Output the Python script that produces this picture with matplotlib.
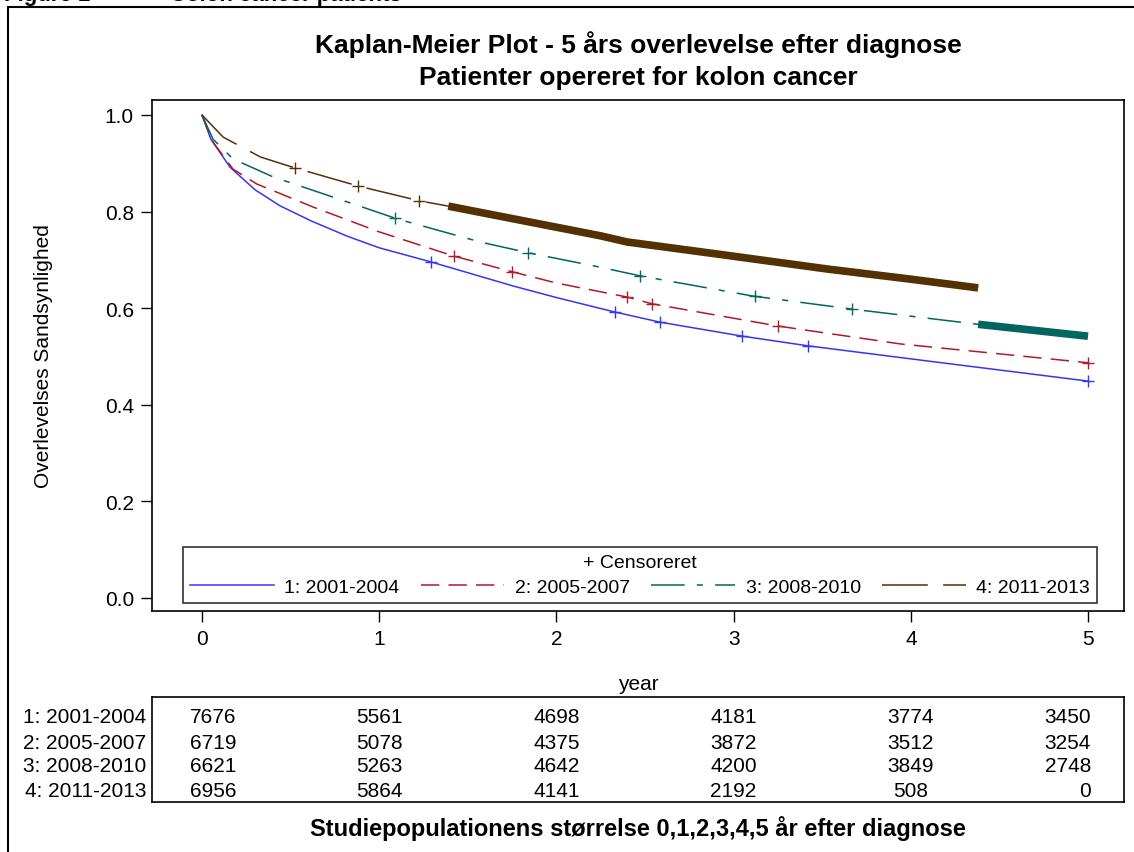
import numpy as np
import matplotlib
matplotlib.use("Agg")
import matplotlib.pyplot as plt
from matplotlib.lines import Line2D

plt.rcParams['font.family'] = ['Liberation Sans', 'DejaVu Sans']

# ---------------- data ----------------
groups = ["1: 2001-2004", "2: 2005-2007", "3: 2008-2010", "4: 2011-2013"]

t1 = [0, 0.05, 0.158, 0.3, 0.44, 0.62, 0.82, 1.0, 1.29, 1.755, 2.0, 2.33, 2.585, 3.05, 3.42, 4.13, 5.0]
s1 = [1.0, 0.95, 0.892, 0.845, 0.812, 0.78, 0.749, 0.725, 0.696, 0.646, 0.622, 0.592, 0.571, 0.542, 0.522, 0.489, 0.449]

t2 = [0, 0.06, 0.175, 0.31, 0.63, 1.0, 1.42, 1.755, 2.0, 2.4, 2.54, 3.25, 3.94, 5.0]
s2 = [1.0, 0.945, 0.888, 0.857, 0.809, 0.758, 0.708, 0.675, 0.652, 0.623, 0.609, 0.563, 0.526, 0.487]

t3 = [0, 0.062, 0.175, 0.4, 0.82, 1.1, 1.57, 1.85, 2.246, 2.47, 3.11, 3.67, 4.37, 5.0]
s3 = [1.0, 0.95, 0.909, 0.872, 0.82, 0.785, 0.737, 0.714, 0.685, 0.667, 0.625, 0.598, 0.567, 0.542]

t4 = [0, 0.12, 0.33, 0.51, 0.88, 1.23, 1.38, 2.246, 2.4, 2.91, 3.53, 4.0, 4.38]
s4 = [1.0, 0.954, 0.913, 0.892, 0.853, 0.822, 0.812, 0.75, 0.737, 0.712, 0.681, 0.66, 0.642]

cens1 = [1.29, 2.33, 2.585, 3.05, 3.42, 5.0]
cens2 = [1.42, 1.75, 2.4, 2.54, 3.25, 5.0]
cens3 = [1.09, 1.84, 2.47, 3.12, 3.67]
cens4 = [0.525, 0.88, 1.225]

# intervals with dense censoring (drawn as a heavy band)
dense3 = (4.38, 5.0)
dense4 = (1.39, 4.38)

years = [0, 1, 2, 3, 4, 5]
at_risk = [
    [7676, 5561, 4698, 4181, 3774, 3450],
    [6719, 5078, 4375, 3872, 3512, 3254],
    [6621, 5263, 4642, 4200, 3849, 2748],
    [6956, 5864, 4141, 2192, 508, 0],
]

# ---------------- styles ----------------
colors = ['#3535F5', '#B2182B', '#01665E', '#543005']
dashes = [None, (12, 6), (22, 8, 4, 8), (30, 10)]
FS = 15

fig = plt.figure(figsize=(11.34, 8.53), dpi=100)
W, H = 1134, 853

def fx(px):
    return px / W

def fy(py):
    return 1 - py / H

ax = fig.add_axes([fx(152), fy(612), fx(1124) - fx(152), fy(101) - fy(612)])

curves = [(t1, s1, cens1, None), (t2, s2, cens2, None), (t3, s3, cens3, dense3), (t4, s4, cens4, dense4)]
handles = []
for i, (t, s, cens, dense) in enumerate(curves):
    ln, = ax.plot(t, s, color=colors[i], lw=1.1)
    if dashes[i] is not None:
        ln.set_dashes(dashes[i])
    cy = np.interp(cens, t, s)
    ax.plot(cens, cy, linestyle='none', marker='+', markersize=8, mew=1.0, color=colors[i])
    if dense is not None:
        a, b = dense
        inner = [(tt, ss) for tt, ss in zip(t, s) if a < tt < b]
        xs = [a] + [p[0] for p in inner] + [b]
        ys = [float(np.interp(a, t, s))] + [p[1] for p in inner] + [float(np.interp(b, t, s))]
        ax.plot(xs, ys, color=colors[i], lw=5.5, solid_capstyle='butt')
    h = Line2D([], [], color=colors[i], lw=1.1)
    if dashes[i] is not None:
        h.set_dashes(dashes[i])
    handles.append(h)

x0 = -0.282
x1 = 5.203
ax.set_xlim(x0, x1)
ax.set_ylim(-0.027, 1.031)
ax.set_xticks(years)
ax.set_xticklabels([str(y) for y in years])
ax.set_yticks([0, 0.2, 0.4, 0.6, 0.8, 1.0])
ax.set_yticklabels(['0.0', '0.2', '0.4', '0.6', '0.8', '1.0'])
ax.tick_params(direction='out', length=8, width=1, labelsize=FS, pad=5)
for sp in ax.spines.values():
    sp.set_linewidth(1.2)
ax.set_xlabel('year', fontsize=FS, labelpad=19)
ax.set_ylabel('Overlevelses Sandsynlighed', fontsize=FS, labelpad=37)

leg = ax.legend(handles, groups, ncol=4, title='+ Censoreret', mode='expand',
                bbox_to_anchor=(0.032, 0.0157, 0.940, 0.109), loc='lower left',
                fontsize=14, title_fontsize=14, handlelength=4.3, handletextpad=0.55,
                columnspacing=0.5,
                frameon=True, fancybox=False, borderpad=0.35, labelspacing=0.4, borderaxespad=0)
leg.get_frame().set_edgecolor('black')
leg.get_frame().set_linewidth(1.2)

# titles
fig.text(fx(638), fy(45), 'Kaplan-Meier Plot - 5 års overlevelse efter diagnose', ha='center', va='center',
         fontsize=19, fontweight='bold')
fig.text(fx(638), fy(78), 'Patienter opereret for kolon cancer', ha='center', va='center',
         fontsize=19, fontweight='bold')

# risk table
axt = fig.add_axes([fx(152), fy(803), fx(1124) - fx(152), fy(698) - fy(803)])
axt.set_xlim(x0, x1)
axt.set_ylim(0, 1)
axt.set_xticks([])
axt.set_yticks([])
for sp in axt.spines.values():
    sp.set_linewidth(1.2)
rows_y = [0.819, 0.571, 0.343, 0.114]
for r, (name, vals) in enumerate(zip(groups, at_risk)):
    axt.text(-0.006, rows_y[r], name, transform=axt.transAxes, ha='right', va='center', fontsize=FS)
    for j, (yr, v) in enumerate(zip(years, vals)):
        if j == 0:
            axt.text(yr - 0.068, rows_y[r], str(v), ha='left', va='center', fontsize=FS)
        elif j == len(years) - 1:
            axt.text(yr + 0.017, rows_y[r], str(v), ha='right', va='center', fontsize=FS)
        else:
            axt.text(yr, rows_y[r], str(v), ha='center', va='center', fontsize=FS)

fig.text(fx(638), fy(829), 'Studiepopulationens størrelse 0,1,2,3,4,5 år efter diagnose', ha='center',
         va='center', fontsize=17, fontweight='bold')

# outer frame (top and left edges) and heading clipped at the top edge
fig.add_artist(Line2D([fx(8), 1.0], [fy(8), fy(8)], color='black', lw=1.5))
fig.add_artist(Line2D([fx(8), fx(8)], [fy(8), 0.0], color='black', lw=1.5))
fig.text(fx(4), fy(1.5), 'Figure 1', ha='left', va='baseline', fontsize=16, fontweight='bold')
fig.text(fx(170), fy(1.5), 'Colon cancer patients', ha='left', va='baseline', fontsize=16, fontweight='bold')

fig.savefig('out.png', dpi=100)
